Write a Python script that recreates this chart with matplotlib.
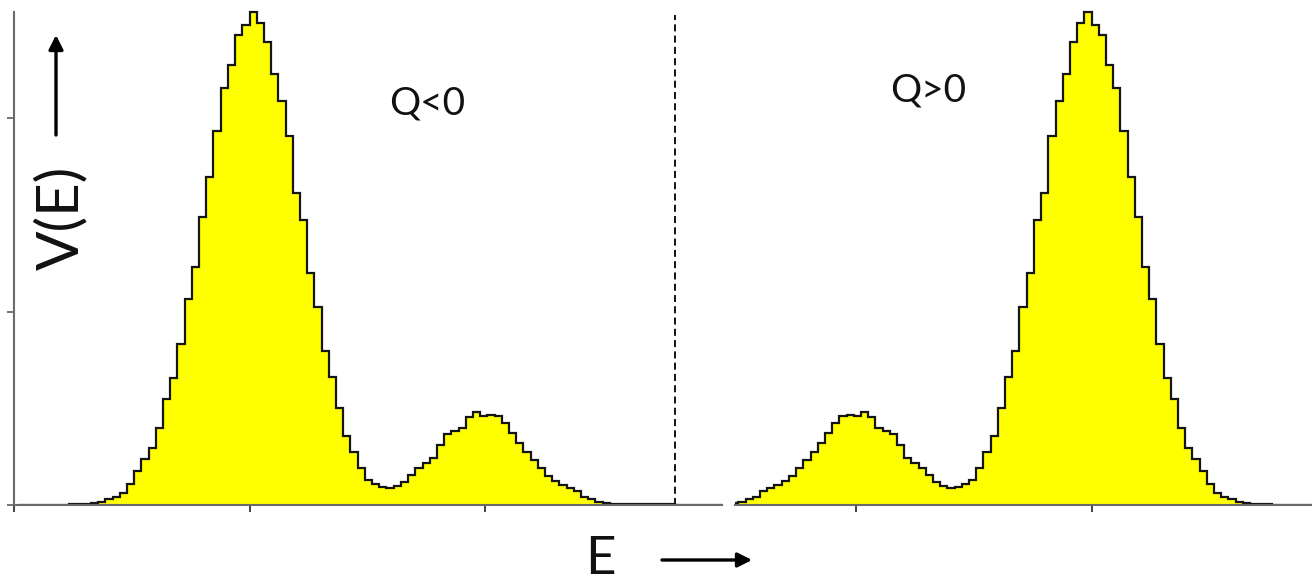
import numpy as np
import matplotlib
matplotlib.use("Agg")
import matplotlib.pyplot as plt
from matplotlib.patches import FancyArrowPatch

W, H = 1312, 581

# V(E) histogram for Q<0 (the Q>0 panel shows the same distribution mirrored in E)
bin_width = 0.0306
first_edge = 1.0 - 32 * bin_width
counts = [
    0.3, 0.3, 0.3, 0.3, 0.3, 0.3, 0.3,
    0.7, 0.7, 0.7,
    1.6, 3, 6, 8, 12, 22, 35, 48, 59, 80, 110, 131, 167, 213, 246, 298,
    339, 387, 431, 455, 486, 497,
    510, 499, 479, 446, 418, 382, 323, 295, 240, 205, 159, 132, 100, 71,
    55, 38, 26, 22, 19, 17.5, 20, 24,
    31, 38, 43, 49, 62, 73, 77, 80, 91, 96,
    92, 93, 92, 85, 74, 64, 55, 47, 38, 30, 25, 21, 18, 14, 8, 6, 3, 2,
    1.5, 1.5,
    1, 1, 1, 1, 0.7, 0.7, 0.7, 0.5, 0.5, 0.5, 0.5, 0.4, 0.3, 0.3,
]
edges = first_edge + bin_width * np.arange(len(counts) + 1)

x_ticks = [1, 2]
y_ticks = [0, 200, 400]
E_split = 2.807
panel_labels = ["Q<0", "Q>0"]

FILL = "#ffff00"
EDGE = "#151515"
AXIS = "#6a6a6a"
FONT = "Lato"

fig = plt.figure(figsize=(W / 100, H / 100), dpi=100)

px_per_unit_y = 0.9667
y_top = 518
ax_h = y_top * px_per_unit_y
bottom = (H - 505) / H

ax1 = fig.add_axes([14 / W, bottom, 708 / W, ax_h / H])
ax2 = fig.add_axes([735 / W, bottom, 577 / W, ax_h / H])


def draw_hist(ax):
    ax.stairs(counts, edges, fill=True, facecolor=FILL, edgecolor="none",
              linewidth=0, zorder=2)
    ax.stairs(counts, edges, baseline=None, color=EDGE, linewidth=1.6,
              zorder=3)
    ax.set_ylim(0, y_top)
    ax.set_facecolor("none")
    for s in ("top", "right"):
        ax.spines[s].set_visible(False)
    ax.spines["bottom"].set_color(AXIS)
    ax.spines["bottom"].set_linewidth(1.5)
    ax.spines["bottom"].set_zorder(4)
    ax.tick_params(axis="both", direction="out", length=5, width=1.3,
                   color="#333333", labelbottom=False, labelleft=False)


draw_hist(ax1)
ax1.set_xlim(0, 3.006)
ax1.set_xticks([0] + x_ticks)
ax1.set_yticks(y_ticks)
ax1.spines["left"].set_color(AXIS)
ax1.spines["left"].set_linewidth(1.5)
ax1.spines["left"].set_bounds(0, 510)
ax1.tick_params(axis="y", color=AXIS)
ax1.axvline(E_split, ymin=0, ymax=507 / y_top, color="#111111",
            linewidth=1.4, linestyle=(0, (3.6, 2.2)), zorder=3)

draw_hist(ax2)
ax2.set_xlim(2.514, 0.064)
ax2.set_xticks(x_ticks)
ax2.set_yticks([])
ax2.spines["left"].set_visible(False)


def fx(px):
    return px / W


def fy(py):
    return 1 - py / H


fig.text(fx(427), fy(104), panel_labels[0], fontsize=28, family=FONT,
         ha="center", va="center", color="#111111")
fig.text(fx(928), fy(91), panel_labels[1], fontsize=28, family=FONT,
         ha="center", va="center", color="#111111")

fig.text(fx(61), fy(218), "V(E)", fontsize=42, family=FONT, rotation=90,
         ha="center", va="center", color="#111111")
fig.text(fx(600), fy(560), "E", fontsize=38, family=FONT,
         ha="center", va="center", color="#111111")

arrow_style = "-|>,head_length=8.5,head_width=4.3"
for (x0, y0), (x1, y1) in [((56, 135), (56, 35)), ((662, 560), (752, 560))]:
    fig.add_artist(FancyArrowPatch((fx(x0), fy(y0)), (fx(x1), fy(y1)),
                                   transform=fig.transFigure,
                                   arrowstyle=arrow_style, mutation_scale=1,
                                   linewidth=2.4, color="#000000",
                                   shrinkA=0, shrinkB=0))

fig.savefig("out.png", dpi=100)
